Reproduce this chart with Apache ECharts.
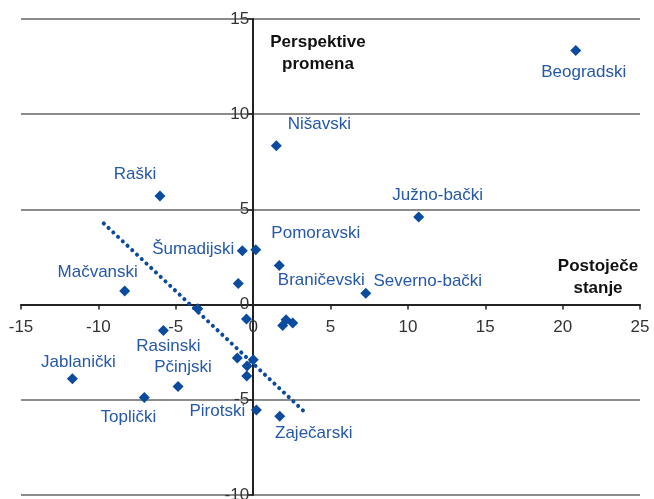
<!DOCTYPE html>
<html>
<head>
<meta charset="utf-8">
<script src="https://cdn.jsdelivr.net/npm/echarts@6/dist/echarts.min.js"></script>
<style>
  html, body { margin: 0; padding: 0; background: #fff; }
  #chart { width: 654px; height: 499px; }
</style>
</head>
<body>
<div id="chart"></div>
<script>
// okruzi: postojece stanje (x) i perspektive promena (y)
const districtNames = [
  'Beogradski', 'Nišavski', 'Raški', 'Južno-bački', 'Šumadijski',
  'Pomoravski', 'Braničevski', '', 'Mačvanski', 'Severno-bački',
  '', '', 'Rasinski', '', '',
  '', '', '', '', '',
  'Pčinjski', 'Jablanički', 'Toplički', 'Pirotski', 'Zaječarski'
];
const currentState = [
  20.85, 1.50, -6.02, 10.70, -0.70,
  0.17, 1.69, -0.96, -8.30, 7.28,
  -3.58, -0.43, -5.80, 2.13, 1.91,
  2.56, -1.02, 0.01, -0.39, -0.41,
  -4.85, -11.68, -7.03, 0.21, 1.72
];
const changeOutlook = [
  13.35, 8.34, 5.71, 4.60, 2.83,
  2.88, 2.05, 1.11, 0.71, 0.60,
  -0.22, -0.75, -1.36, -0.80, -1.10,
  -0.97, -2.81, -2.90, -3.23, -3.75,
  -4.30, -3.90, -4.88, -5.54, -5.86
];
// linija trenda (pocetak i kraj)
const trendX = [-9.65, 3.50];
const trendY = [4.26, -5.77];

const xRange = [-15, 25];
const yRange = [-10, 15];
const tickStep = 5;

// pomeraj natpisa od markera (u pikselima)
const labelOffsets = {
  'Beogradski': [8, 22],
  'Nišavski': [43, -21],
  'Raški': [-25, -22],
  'Južno-bački': [19, -22],
  'Šumadijski': [-49, -1],
  'Pomoravski': [60, -16],
  'Braničevski': [42, 15],
  'Mačvanski': [-27, -19],
  'Severno-bački': [62, -12],
  'Rasinski': [5, 16],
  'Pčinjski': [5, -19],
  'Jablanički': [6, -17],
  'Toplički': [-16, 20],
  'Pirotski': [-39, 1],
  'Zaječarski': [34, 17]
};

const blue = '#0a4a9f';
const labelBlue = '#2558a8';
const font = '"Liberation Sans", Arial, sans-serif';

const points = districtNames.map((n, i) => ({
  name: n,
  value: [currentState[i], changeOutlook[i]],
  label: n ? { show: true, offset: labelOffsets[n] } : { show: false }
}));

// mreza
const gridBox = { left: 21, right: 14, top: 19, bottom: 4 };
const plotW = 654 - gridBox.left - gridBox.right;
const plotH = 499 - gridBox.top - gridBox.bottom;
// ose se seku u nuli, pa ih pomeramo unutra
const xAxisShift = -plotH * (0 - yRange[0]) / (yRange[1] - yRange[0]);
const yAxisShift = -plotW * (0 - xRange[0]) / (xRange[1] - xRange[0]);

const chart = echarts.init(document.getElementById('chart'));
chart.setOption({
  animation: false,
  grid: Object.assign({ containLabel: false, outerBoundsMode: 'none' }, gridBox),
  xAxis: {
    type: 'value',
    position: 'bottom',
    offset: xAxisShift,
    min: xRange[0], max: xRange[1], interval: tickStep,
    axisLine: { onZero: false, lineStyle: { color: '#222', width: 2 } },
    axisTick: { show: true, length: 5, lineStyle: { color: '#222', width: 1.5 } },
    axisLabel: { color: '#333', fontSize: 17, fontFamily: font, margin: 14 },
    splitLine: { show: false }
  },
  yAxis: {
    type: 'value',
    position: 'left',
    offset: yAxisShift,
    min: yRange[0], max: yRange[1], interval: tickStep,
    axisLine: { onZero: false, lineStyle: { color: '#222', width: 2 } },
    axisTick: { show: true, length: 5, lineStyle: { color: '#222', width: 1.5 } },
    axisLabel: { color: '#333', fontSize: 17, fontFamily: font, margin: 4 },
    splitLine: { show: true, lineStyle: { color: '#666', width: 1.5 } }
  },
  graphic: [
    {
      type: 'text', x: 318, y: 31,
      style: {
        text: 'Perspektive\npromena', align: 'center', lineHeight: 22,
        fill: '#111', font: 'bold 17px ' + font
      }
    },
    {
      type: 'text', x: 598, y: 255,
      style: {
        text: 'Postoječe\nstanje', align: 'center', lineHeight: 22,
        fill: '#111', font: 'bold 17px ' + font
      }
    }
  ],
  series: [
    {
      type: 'line',
      data: trendX.map((x, i) => [x, trendY[i]]),
      symbol: 'none',
      silent: true,
      lineStyle: { color: blue, width: 4, type: [0.1, 6.4], cap: 'round' },
      z: 1
    },
    {
      type: 'scatter',
      data: points,
      symbol: 'diamond',
      symbolSize: 11,
      itemStyle: { color: blue, opacity: 1 },
      label: {
        position: 'inside',
        formatter: '{b}',
        color: labelBlue,
        fontSize: 17,
        fontFamily: font
      },
      z: 3
    }
  ]
});
</script>
</body>
</html>
